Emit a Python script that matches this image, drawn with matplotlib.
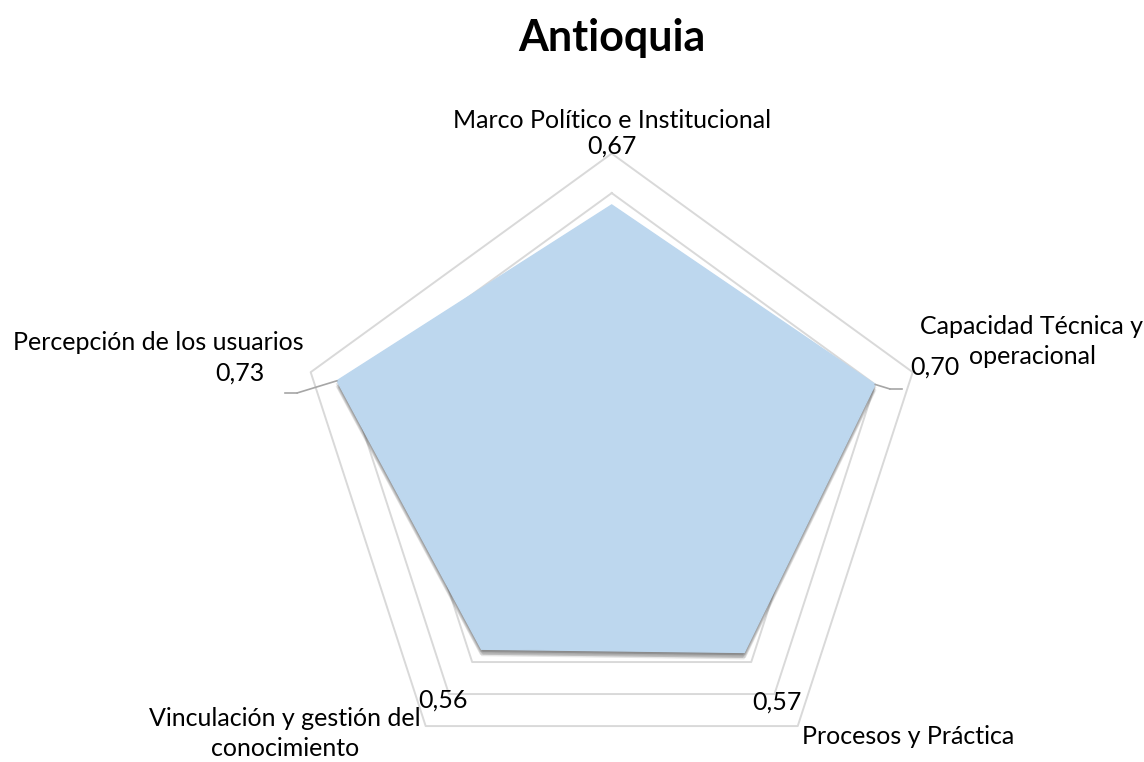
import numpy as np
import matplotlib
matplotlib.use("Agg")
import matplotlib.pyplot as plt
import matplotlib.patheffects as pe

# Data
categories = [
    "Marco Político e Institucional",
    "Capacidad Técnica y\noperacional",
    "Procesos y Práctica",
    "Vinculación y gestión del\nconocimiento",
    "Percepción de los usuarios",
]
values = [0.67, 0.70, 0.57, 0.56, 0.73]
grid_levels = [0.1, 0.2, 0.3, 0.4, 0.5, 0.6, 0.7, 0.8]
title = "Antioquia"

W, H = 1144, 762
plt.rcParams["font.family"] = ["Lato", "DejaVu Sans"]

fig = plt.figure(figsize=(W / 100, H / 100), dpi=100)
fig.patch.set_facecolor("white")

# polar axes centred on the pentagon, r = 0.8 at the outer ring
cx, cy, R = 611.7, 470.0, 316.5
ax = fig.add_axes([(cx - R) / W, (H - cy - R) / H, 2 * R / W, 2 * R / H],
                  projection="polar")
ax.set_theta_offset(np.pi / 2)
ax.set_theta_direction(-1)
ax.set_ylim(0, 0.8)
ax.axis("off")

n = len(categories)
theta = np.linspace(0, 2 * np.pi, n, endpoint=False)
theta_c = np.append(theta, theta[0])

# pentagonal gridlines
for lvl in grid_levels:
    ax.plot(theta_c, [lvl] * (n + 1), color="#D9D9D9", lw=1.4,
            clip_on=False, zorder=1)

# filled series with a soft drop shadow falling downwards
vals_c = np.append(values, values[0])
poly = ax.fill(theta_c, vals_c, color="#BDD7EE", zorder=3, clip_on=False)[0]
shadow_offsets = [(0, -1), (-1, -2), (1, -2), (0, -3), (-1, -4), (1, -4), (0, -5)]
shadows = [pe.SimplePatchShadow(offset=o, shadow_rgbFace="#404040", alpha=0.13)
           for o in shadow_offsets]
poly.set_path_effects(shadows + [pe.Normal()])

def fx(px):
    return px / W

def fy(py):
    return 1 - py / H

fs = 18
txt = dict(fontsize=fs, color="black", ha="center", va="center")

def fmt(v):
    return f"{v:.2f}".replace(".", ",")

# category and value labels
fig.text(fx(612), fy(121), categories[0], **txt)
fig.text(fx(612), fy(146), fmt(values[0]), **txt)

fig.text(fx(1032), fy(326), "Capacidad Técnica y", **txt)
fig.text(fx(1032), fy(356), "operacional", **txt)
fig.text(fx(935), fy(367), fmt(values[1]), **txt)

fig.text(fx(777), fy(702), fmt(values[2]), **txt)
fig.text(fx(908), fy(736), categories[2], **txt)

fig.text(fx(443), fy(700), fmt(values[3]), **txt)
fig.text(fx(285), fy(718), "Vinculación y gestión del", **txt)
fig.text(fx(285), fy(748), "conocimiento", **txt)

fig.text(fx(158), fy(343), categories[4], **txt)
fig.text(fx(240), fy(373), fmt(values[4]), **txt)

# leader lines from the points to their labels
lead = dict(color="#A6A6A6", lw=1.2)
for idx, (elbow, end) in {1: ((890, 389), (902, 389)),
                          4: ((297, 393), (285, 393))}.items():
    ax.annotate("", xy=(theta[idx], values[idx]),
                xytext=(elbow[0], H - elbow[1]), textcoords="figure pixels",
                arrowprops=dict(arrowstyle="-", shrinkA=0, shrinkB=0, **lead),
                annotation_clip=False)
    fig.add_artist(plt.Line2D([fx(elbow[0]), fx(end[0])],
                              [fy(elbow[1]), fy(end[1])], **lead))

fig.text(fx(612), fy(38), title, fontsize=31, fontweight="bold",
         ha="center", va="center", color="black")

fig.savefig("out.png", dpi=100, facecolor="white")
